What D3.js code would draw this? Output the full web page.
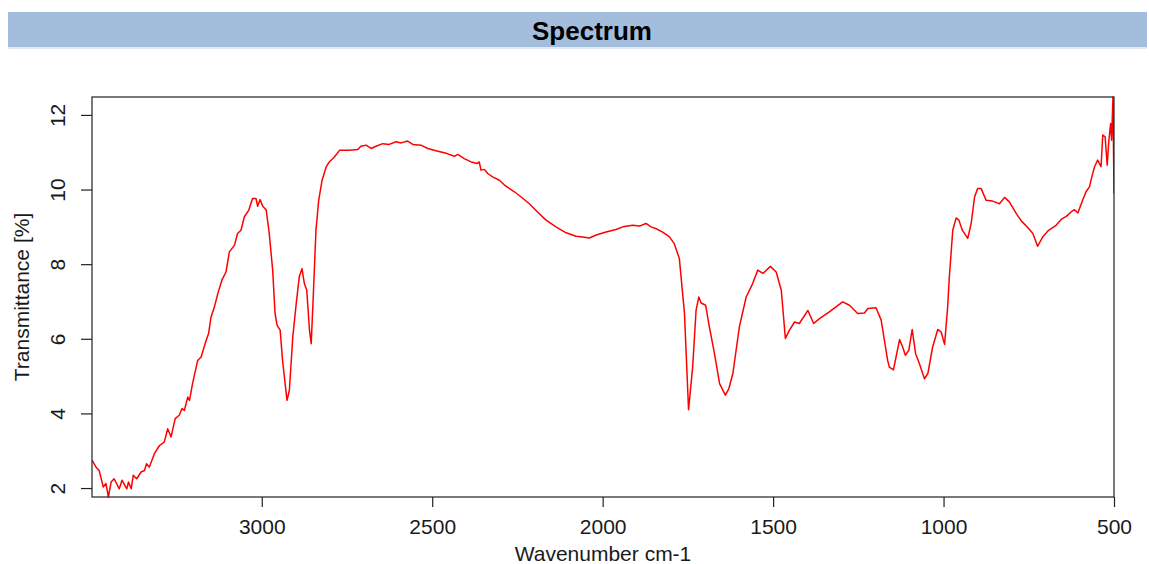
<!DOCTYPE html>
<html>
<head>
<meta charset="utf-8">
<script src="https://cdn.jsdelivr.net/npm/d3@7"></script>
<style>
  html, body { margin: 0; padding: 0; background: #ffffff; }
  svg { display: block; font-family: "Liberation Sans", Arial, sans-serif; }
</style>
</head>
<body>
<svg id="chart" width="1149" height="564"></svg>
<script>
// IR spectrum: wavenumber (cm-1) against transmittance (%)
const wavenumber = [
  3498, 3486, 3477, 3465, 3457, 3450, 3442, 3433, 3418, 3410, 3396, 3391, 3383, 3377, 3367,
  3354, 3344, 3338, 3330, 3315, 3300, 3286, 3276, 3266, 3254, 3242, 3234, 3227, 3217, 3212,
  3203, 3188, 3178, 3163, 3156, 3149, 3139, 3129, 3117, 3105, 3095, 3080, 3071, 3061, 3051,
  3038, 3027, 3017, 3012, 3005, 2997, 2987, 2978, 2968, 2961, 2955, 2946, 2939, 2926, 2919,
  2909, 2899, 2890, 2882, 2875, 2868, 2860, 2855, 2849, 2841, 2833, 2823, 2811, 2802, 2787,
  2772, 2753, 2743, 2719, 2709, 2694, 2679, 2665, 2645, 2626, 2606, 2591, 2572, 2557, 2533,
  2513, 2489, 2459, 2435, 2425, 2406, 2386, 2367, 2362, 2357, 2347, 2337, 2323, 2303, 2288,
  2274, 2259, 2239, 2215, 2191, 2166, 2137, 2107, 2078, 2059, 2039, 2019, 1990, 1961, 1941,
  1912, 1892, 1873, 1858, 1843, 1824, 1804, 1790, 1775, 1760, 1748, 1736, 1726, 1718, 1711,
  1698, 1687, 1672, 1657, 1640, 1630, 1618, 1599, 1579, 1560, 1545, 1530, 1508, 1491, 1476,
  1464, 1452, 1437, 1423, 1398, 1381, 1364, 1335, 1296, 1276, 1252, 1232, 1222, 1198, 1183,
  1164, 1159, 1147, 1129, 1120, 1112, 1102, 1092, 1082, 1071, 1056, 1046, 1032, 1017, 1007,
  997, 988, 983, 973, 963, 955, 945, 929, 919, 909, 900, 890, 875, 856, 836,
  821, 807, 787, 772, 753, 738, 724, 709, 694, 670, 655, 640, 626, 616, 606,
  592, 582, 572, 564, 557, 548, 538, 533, 526, 520, 515, 510, 507, 503, 500
];
const transmittance = [
  2.75, 2.56, 2.47, 2.03, 2.12, 1.76, 2.16, 2.25, 1.98, 2.21, 1.98, 2.16, 1.98, 2.34, 2.25,
  2.43, 2.47, 2.65, 2.56, 2.92, 3.14, 3.23, 3.59, 3.37, 3.86, 3.95, 4.13, 4.08, 4.44, 4.35,
  4.80, 5.42, 5.51, 5.96, 6.14, 6.58, 6.85, 7.21, 7.57, 7.79, 8.33, 8.51, 8.82, 8.91, 9.27,
  9.45, 9.76, 9.76, 9.55, 9.73, 9.55, 9.45, 8.82, 7.84, 6.68, 6.36, 6.23, 5.42, 4.35, 4.62,
  6.05, 6.94, 7.66, 7.88, 7.48, 7.30, 6.23, 5.87, 7.12, 8.91, 9.71, 10.25, 10.61, 10.74, 10.87,
  11.05, 11.05, 11.05, 11.07, 11.16, 11.19, 11.10, 11.16, 11.23, 11.21, 11.28, 11.25, 11.30, 11.21, 11.19,
  11.10, 11.04, 10.97, 10.89, 10.94, 10.83, 10.74, 10.70, 10.74, 10.52, 10.54, 10.43, 10.34, 10.25, 10.12,
  10.03, 9.94, 9.80, 9.62, 9.40, 9.18, 9.00, 8.84, 8.75, 8.73, 8.70, 8.78, 8.86, 8.93, 9.00,
  9.04, 9.02, 9.09, 9.00, 8.95, 8.86, 8.73, 8.55, 8.15, 6.68, 4.10, 5.24, 6.76, 7.12, 6.96,
  6.90, 6.32, 5.60, 4.80, 4.49, 4.66, 5.07, 6.32, 7.12, 7.48, 7.84, 7.75, 7.94, 7.79, 7.30,
  6.01, 6.23, 6.45, 6.41, 6.76, 6.41, 6.54, 6.72, 6.99, 6.90, 6.68, 6.69, 6.81, 6.83, 6.50,
  5.42, 5.24, 5.17, 5.98, 5.78, 5.56, 5.69, 6.25, 5.60, 5.34, 4.93, 5.07, 5.78, 6.25, 6.18,
  5.85, 6.85, 7.66, 8.91, 9.24, 9.18, 8.91, 8.69, 9.09, 9.80, 10.03, 10.03, 9.71, 9.69, 9.62,
  9.79, 9.67, 9.36, 9.16, 8.98, 8.82, 8.48, 8.73, 8.89, 9.04, 9.20, 9.28, 9.40, 9.46, 9.37,
  9.71, 9.94, 10.07, 10.38, 10.61, 10.79, 10.61, 11.46, 11.41, 10.65, 11.32, 11.77, 11.32, 12.48, 9.89
];
const xTicks = [3000, 2500, 2000, 1500, 1000, 500];
const yTicks = [2, 4, 6, 8, 10, 12];
const xRange = [3498, 500];

const chartTitle = "Spectrum";
const xLabel = "Wavenumber cm-1";
const yLabel = "Transmittance [%]";

const spectrum = wavenumber.map((w, i) => ({ w, t: transmittance[i] }));

const svg = d3.select("#chart");
const plot = { left: 92, right: 1114, top: 97, bottom: 497 };

// Header band with the title
svg.append("rect")
  .attr("x", 8).attr("y", 12).attr("width", 1139).attr("height", 35)
  .attr("fill", "#a3bedc");
svg.append("rect")
  .attr("x", 8).attr("y", 47).attr("width", 1139).attr("height", 2)
  .attr("fill", "#e2eaf4");
svg.append("text")
  .attr("x", 592).attr("y", 40)
  .attr("text-anchor", "middle")
  .attr("font-size", 26).attr("font-weight", "bold")
  .attr("fill", "#000")
  .text(chartTitle);

const x = d3.scaleLinear().domain(xRange).range([plot.left, plot.right]);
const y = d3.scaleLinear().domain(d3.extent(transmittance)).range([plot.bottom, plot.top]);

// Spectrum trace, clipped to the plot box
svg.append("clipPath").attr("id", "plotClip")
  .append("rect")
  .attr("x", plot.left).attr("y", plot.top - 1)
  .attr("width", plot.right - plot.left).attr("height", plot.bottom - plot.top + 2);

const line = d3.line().x(d => x(d.w)).y(d => y(d.t));
svg.append("path")
  .datum(spectrum)
  .attr("clip-path", "url(#plotClip)")
  .attr("fill", "none")
  .attr("stroke", "#ff0000")
  .attr("stroke-width", 1.5)
  .attr("stroke-linejoin", "round")
  .attr("d", line);

// Plot frame
svg.append("rect")
  .attr("x", plot.left).attr("y", plot.top)
  .attr("width", plot.right - plot.left).attr("height", plot.bottom - plot.top)
  .attr("fill", "none").attr("stroke", "#222").attr("stroke-width", 1.2);

// Bottom axis
const xAxis = svg.append("g")
  .attr("transform", `translate(0,${plot.bottom})`)
  .call(d3.axisBottom(x).tickValues(xTicks).tickSize(10).tickPadding(12).tickFormat(d3.format("d")));
xAxis.select(".domain").remove();
xAxis.selectAll(".tick line").attr("stroke", "#222").attr("stroke-width", 1.2);
xAxis.selectAll(".tick text")
  .attr("font-size", 21).attr("fill", "#1a1a1a")
  .attr("font-family", "'Liberation Sans', Arial, sans-serif");

// Left axis with rotated labels
const yAxis = svg.append("g")
  .attr("transform", `translate(${plot.left},0)`)
  .call(d3.axisLeft(y).tickValues(yTicks).tickSize(11).tickFormat(d3.format("d")));
yAxis.select(".domain").remove();
yAxis.selectAll(".tick line").attr("stroke", "#222").attr("stroke-width", 1.2);
yAxis.selectAll(".tick text")
  .attr("x", null).attr("dy", null)
  .attr("text-anchor", "middle")
  .attr("transform", "translate(-27,0) rotate(-90)")
  .attr("font-size", 21).attr("fill", "#1a1a1a")
  .attr("font-family", "'Liberation Sans', Arial, sans-serif");

// Axis titles
svg.append("text")
  .attr("x", (plot.left + plot.right) / 2).attr("y", 561)
  .attr("text-anchor", "middle")
  .attr("font-size", 21).attr("fill", "#1a1a1a")
  .text(xLabel);
svg.append("text")
  .attr("transform", `translate(29,${(plot.top + plot.bottom) / 2}) rotate(-90)`)
  .attr("text-anchor", "middle")
  .attr("font-size", 21).attr("fill", "#1a1a1a")
  .text(yLabel);
</script>
</body>
</html>
